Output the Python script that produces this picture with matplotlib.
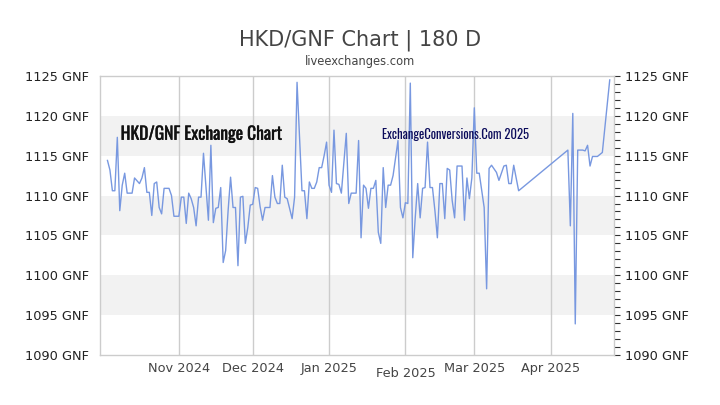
import numpy as np
import pandas as pd
import matplotlib
matplotlib.use('Agg')
import matplotlib.pyplot as plt
import matplotlib.dates as mdates
import matplotlib.patheffects as pe
from matplotlib.ticker import MultipleLocator, FuncFormatter

# days after 2024-10-01 and the HKD/GNF rate
start = '2024-10-01'
days = [2, 3, 4, 5, 6, 7, 8, 9, 10, 12, 13, 15, 16, 17, 18, 19, 20, 21, 22, 23,
        24, 25, 27, 28, 29, 31, 32, 33, 34, 35, 36, 37, 38, 39, 40, 41, 43, 44, 45, 46,
        47, 48, 49, 50, 51, 52, 53, 54, 55, 56, 57, 58, 59, 60, 61, 62, 63, 64, 65, 66,
        68, 69, 70, 71, 72, 73, 74, 75, 77, 78, 79, 81, 82, 83, 84, 85, 86, 87, 88, 89,
        90, 91, 92, 93, 94, 95, 96, 97, 99, 100, 101, 103, 104, 105, 106, 107, 108, 109, 110, 111,
        112, 113, 114, 115, 116, 117, 118, 120, 121, 122, 123, 124, 125, 126, 127, 128, 129, 130, 131, 132,
        133, 134, 135, 136, 137, 138, 139, 140, 141, 142, 143, 144, 146, 147, 148, 149, 150, 151, 152, 153,
        154, 155, 156, 157, 158, 160, 161, 162, 163, 164, 165, 166, 167, 168, 169,
        189, 190, 191, 192, 193, 195, 196, 197, 198, 199, 201, 203, 206]
rates = [1114.4, 1113.2, 1110.6, 1110.6, 1117.3, 1108.1, 1111.3, 1112.8, 1110.3, 1110.3,
         1112.2, 1111.5, 1112.2, 1113.5, 1110.4, 1110.4, 1107.5, 1111.5, 1111.7, 1108.5,
         1107.7, 1110.9, 1110.9, 1110.0, 1107.4, 1107.4, 1109.8, 1109.8, 1106.5, 1110.3,
         1109.6, 1108.5, 1106.2, 1109.8, 1109.8, 1115.3, 1106.9, 1116.3, 1106.6, 1108.4,
         1108.5, 1111.0, 1101.6, 1103.1, 1108.1, 1112.3, 1108.5, 1108.5, 1101.2, 1109.8,
         1109.9, 1104.0, 1106.0, 1108.8, 1108.9, 1111.0, 1110.9, 1108.6, 1106.9, 1108.5,
         1108.5, 1112.5, 1109.8, 1109.0, 1109.0, 1113.8, 1109.8, 1109.6, 1107.1, 1109.8,
         1124.2, 1110.6, 1110.6, 1107.1, 1111.7, 1110.9, 1110.9, 1111.7, 1113.5, 1113.5,
         1115.0, 1116.7, 1111.3, 1110.4, 1118.2, 1111.5, 1111.4, 1110.3, 1117.8, 1109.0,
         1110.3, 1110.3, 1116.9, 1104.7, 1111.3, 1110.9, 1108.4, 1110.9, 1110.9, 1111.9,
         1105.4, 1104.0, 1113.5, 1108.5, 1111.3, 1111.3, 1112.5, 1116.9, 1108.5, 1107.2,
         1109.1, 1109.0, 1124.1, 1102.2, 1107.2, 1111.5, 1107.2, 1110.9, 1111.0, 1116.7,
         1111.0, 1111.0, 1108.1, 1104.7, 1111.5, 1111.5, 1107.1, 1113.4, 1113.2, 1109.4,
         1107.2, 1113.7, 1113.7, 1106.9, 1112.2, 1109.6, 1112.2, 1121.0, 1112.8, 1112.8,
         1110.6, 1108.5, 1098.3, 1113.4, 1113.8, 1112.9, 1111.9, 1112.8, 1113.7, 1113.8,
         1111.5, 1111.5, 1113.8, 1112.2, 1110.6,
         1115.7, 1106.2, 1120.3, 1093.9, 1115.7, 1115.7, 1115.6, 1116.3, 1113.7, 1114.9,
         1114.9, 1115.4, 1124.5]

month_ticks = ['2024-11-01', '2024-12-01', '2025-01-01', '2025-02-01', '2025-03-01', '2025-04-01']
band_ranges = [(1115, 1120), (1105, 1110), (1095, 1100)]

dates = pd.Timestamp(start) + pd.to_timedelta(days, unit='D')

fig = plt.figure(figsize=(7.2, 4.05), dpi=100)
ax = fig.add_axes([0.139, 0.1235, 0.714, 0.689])

for lo, hi in band_ranges:
    ax.axhspan(lo, hi, color='#f2f2f2', lw=0, zorder=0)
for m in month_ticks:
    ax.axvline(pd.Timestamp(m), color='#cccccc', lw=1, zorder=1)

ax.plot(dates, rates, color='#7898e0', lw=1, zorder=3)

ax.set_ylim(1090, 1125)
ax.set_xlim(pd.Timestamp(start) - pd.Timedelta(days=1.0), pd.Timestamp(start) + pd.Timedelta(days=207.8))

ax.set_xticks([pd.Timestamp(m) for m in month_ticks])
ax.xaxis.set_major_formatter(mdates.DateFormatter('%b %Y'))
ax.tick_params(axis='x', length=0, pad=5, labelsize=9.3, labelcolor='#444444')
ax.xaxis.get_major_ticks()[3].set_pad(8.5)

gnf = FuncFormatter(lambda v, p: '%d GNF' % v)
ax.yaxis.set_major_locator(MultipleLocator(5))
ax.yaxis.set_major_formatter(gnf)
ax.yaxis.set_minor_locator(MultipleLocator(1))
ax.tick_params(axis='y', which='both', left=False, right=True, labelleft=True, labelright=True,
               labelsize=9.3, labelcolor='#222222', direction='out', color='#333333')
ax.tick_params(axis='y', which='major', length=4, width=0.8, pad=4)
ax.tick_params(axis='y', which='minor', length=4, width=0.8)

for s in ax.spines.values():
    s.set_color('#cccccc')
    s.set_linewidth(1)

fig.text(0.5, 0.9, 'HKD/GNF Chart | 180 D', ha='center', va='center', fontsize=15, color='#444444')
fig.text(0.5, 0.847, 'liveexchanges.com', ha='center', va='center', fontsize=8.3, color='#444444')

# watermark texts in a narrow face
ax.text(0.04, 0.791, 'HKD/GNF Exchange Chart', transform=ax.transAxes, ha='left', va='center',
        fontsize=12.6, family=['Oswald', 'DejaVu Sans'], color='#111111', zorder=4,
        path_effects=[pe.withStroke(linewidth=0.25, foreground='#111111')])
ax.text(0.549, 0.791, 'ExchangeConversions.Com 2025', transform=ax.transAxes, ha='left', va='center',
        fontsize=9.1, family=['Oswald', 'DejaVu Sans'], color='#0a0a5a', zorder=4)

plt.savefig('out.png', dpi=100)
